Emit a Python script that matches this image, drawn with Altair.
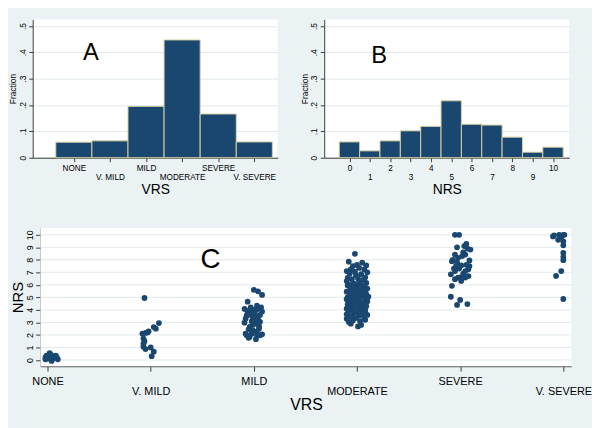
import altair as alt
import pandas as pd

# ---------------- data ----------------
vrs_categories = ["NONE", "V. MILD", "MILD", "MODERATE", "SEVERE", "V. SEVERE"]
vrs_fraction = [0.059, 0.064, 0.195, 0.447, 0.166, 0.060]

nrs_scores = [0, 1, 2, 3, 4, 5, 6, 7, 8, 9, 10]
nrs_fraction = [0.060, 0.026, 0.064, 0.102, 0.119, 0.216, 0.127, 0.124, 0.078, 0.021, 0.040]

fraction_ticks = [0, 0.1, 0.2, 0.3, 0.4, 0.5]
nrs_ticks = [0, 1, 2, 3, 4, 5, 6, 7, 8, 9, 10]
panel_letters = ["A", "B", "C"]

# jittered scatter (panel C): horizontal jitter in hundredths of a category, jittered NRS
none_jitter = [-2, 0, 2, 3, 5, 7, 9, 10, -1, 4, 6, 1, 8, -2, 3]
none_nrs = [0.05, 0.25, 0.55, 0.45, 0.10, 0.30, 0.20, 0.05, 0.35, -0.08, 0.15, 0.10, 0.35, 0.20, 0.20]

vmild_jitter = [-6, 8, 3, -2, -5, -8, -6, -7, -5, 0, 3, 1, -7, -3, 5, -7]
vmild_nrs = [4.95, 2.95, 2.63, 2.29, 2.16, 2.10, 1.50, 1.06, 0.87, 1.00, 0.66, 0.30, 1.71, 2.20, 2.50, 1.30]

mild_jitter = [0, 4, 8, -6, 3, -9, -4, 8, -7, -1, 4, -9, 1, 5, -4, -1, -7, -5, 6, 2, -2, 3,
               -6, 1, -2, 6, -8, 3, 7, -3, 0, -5, 5, -1, -6, 6, -3, 2, -8, 8, 3, -4, 4, 0]
mild_nrs = [5.60, 5.48, 5.19, 4.66, 4.34, 4.08, 3.95, 3.87, 3.55, 3.43, 3.29, 2.98, 2.90, 2.68,
            2.64, 2.37, 1.97, 1.77, 1.97, 1.66, 2.10, 2.29, 3.90, 3.70, 3.10, 3.05, 3.30, 4.05,
            4.20, 4.20, 4.00, 2.45, 2.50, 2.80, 3.75, 3.60, 3.60, 3.45, 2.10, 2.05, 2.00, 1.85,
            3.00, 3.20]

moderate_jitter = [-2,
                   -8, 5, 0, 9, -4,
                   -6, 7, -10, 2, -2, 10,
                   -7, 4, -1, 8, -9, 1,
                   -5, 6, -10, 2, 9, -3, -7, 4,
                   -9, 0, 7, -4, 10, -6, 3, -1, 8, -8,
                   -10, 5, -3, 1, 9, -7, -1, 6, -5, 3, 11, -9, 0, -2,
                   -6, 8, -10, 2, -3, 10, -8, 5, 0, -5, 7, -1,
                   -9, 3, -4, 9, -7, 1, 6, -10, -2, 4, -6,
                   8, -8, 0, -3, 5, -10, 10, 2, -5,
                   -7, 7, -1, -10, 8, -4, 3, -8,
                   1, -6, 4]
moderate_nrs = [8.48,
                7.85, 7.77, 7.60, 7.55, 7.50,
                7.24, 7.24, 7.10, 7.35, 7.05, 7.00,
                6.90, 6.85, 6.75, 6.60, 6.55, 6.50,
                6.45, 6.40, 6.30, 6.20, 6.15, 6.10, 6.00, 6.00,
                5.95, 5.90, 5.85, 5.80, 5.70, 5.65, 5.60, 5.55, 5.50, 5.50,
                5.45, 5.40, 5.35, 5.30, 5.25, 5.20, 5.15, 5.10, 5.05, 5.00, 5.05, 5.00, 5.45, 5.10,
                4.95, 4.90, 4.85, 4.80, 4.75, 4.70, 4.65, 4.60, 4.55, 4.50, 4.50, 4.85,
                4.45, 4.40, 4.35, 4.30, 4.25, 4.20, 4.15, 4.10, 4.05, 4.00, 4.00,
                3.95, 3.90, 3.85, 3.75, 3.70, 3.65, 3.60, 3.55, 3.50,
                3.45, 3.40, 3.35, 3.29, 3.21, 3.15, 3.10, 3.03,
                2.68, 2.90, 2.80]

severe_jitter = [-5, -1, -3, 6, 10, 3, 5, -5, 9, -8, 1, -5, 8, -9, -2, 5, 1, -5, -8, -9, 0, -3, 7,
                 6, -2, 5, -4, -7, 3, -1, 8, -6, 2, 7, -3, 4, 0, 9]
severe_nrs = [10.0, 10.0, 9.00, 9.27, 8.82, 8.60, 8.42, 8.42, 7.95, 7.89, 7.55, 7.10, 7.24, 6.84,
              6.58, 6.58, 6.31, 6.45, 5.92, 5.05, 4.79, 4.40, 4.47,
              7.60, 8.16, 7.10, 7.50, 8.00, 6.90, 7.30, 6.70, 7.30, 8.30, 8.90, 7.80, 9.10, 6.60, 7.50]

vsevere_jitter = [-9, -4, 0, -5, 0, 0, 0, 0, 0, -2, -7, 0, -10, -2, 1]
vsevere_nrs = [9.95, 10.0, 10.0, 9.60, 9.47, 9.16, 8.55, 8.24, 7.97, 7.10, 6.71, 4.87, 9.87, 9.80, 10.0]

# ---------------- styling ----------------
NAVY = "#1a476f"
BG = "#eaf2f3"
GRID = "#e1e9ec"
AXIS = "#3a3a3a"
OUTLINE = "#d6d0a2"
FONT = "Liberation Sans"

names_js = "[" + ",".join("'" + c + "'" for c in vrs_categories) + "]"
vrs_stagger = (f"datum.value % 2 == 0 ? ['', {names_js}[datum.value - 1]] "
               f": {names_js}[datum.value - 1]")
nrs_stagger = "datum.value % 2 == 1 ? ['', '' + datum.value] : '' + datum.value"
frac_label = "datum.value == 0 ? '0' : '.' + round(datum.value * 10)"


def fraction_axis():
    return alt.Axis(values=fraction_ticks, labelExpr=frac_label, labelAngle=-90,
                    labelAlign="center", labelBaseline="bottom", labelFontSize=8.5,
                    labelPadding=1.5, tickSize=4, title="Fraction", titleFontSize=8.5,
                    titlePadding=0.5, grid=True, gridColor=GRID)


def hist_x_axis(values, expr, title):
    return alt.Axis(values=values, labelExpr=expr, labelOverlap=False, labelFlush=False,
                    labelFontSize=8.3, labelLineHeight=8.6, labelPadding=2, tickSize=4,
                    grid=False, title=title, titleFontSize=14, titlePadding=2)


# ---------------- panel A ----------------
codes = list(range(1, len(vrs_categories) + 1))
df_a = pd.DataFrame({"code": codes, "frac": vrs_fraction})
df_a["lo"] = df_a["code"] - 0.5
df_a["hi"] = df_a["code"] + 0.5
df_a["base"] = 0.0

bars_a = alt.Chart(df_a).mark_rect(color=NAVY, stroke=OUTLINE, strokeWidth=1).encode(
    x=alt.X("lo:Q", scale=alt.Scale(domain=[-0.14, 6.65], nice=False, zero=False),
            axis=hist_x_axis(codes, vrs_stagger, "VRS")),
    x2="hi:Q",
    y=alt.Y("frac:Q", scale=alt.Scale(domain=[0, 0.525], nice=False), axis=fraction_axis()),
    y2="base:Q",
)
letter_a = alt.Chart(pd.DataFrame({"t": [panel_letters[0]]})).mark_text(
    fontSize=24, align="center", baseline="alphabetic", color="black", font=FONT
).encode(text="t:N", x=alt.value(59), y=alt.value(41))
panel_a = alt.layer(bars_a, letter_a).properties(width=248, height=140)

# ---------------- panel B ----------------
df_b = pd.DataFrame({"score": nrs_scores, "frac": nrs_fraction})
df_b["lo"] = df_b["score"] - 0.5
df_b["hi"] = df_b["score"] + 0.5
df_b["base"] = 0.0

bars_b = alt.Chart(df_b).mark_rect(color=NAVY, stroke=OUTLINE, strokeWidth=1).encode(
    x=alt.X("lo:Q", scale=alt.Scale(domain=[-1.24, 10.8], nice=False, zero=False),
            axis=hist_x_axis(nrs_scores, nrs_stagger, "NRS")),
    x2="hi:Q",
    y=alt.Y("frac:Q", scale=alt.Scale(domain=[0, 0.525], nice=False), axis=fraction_axis()),
    y2="base:Q",
)
letter_b = alt.Chart(pd.DataFrame({"t": [panel_letters[1]]})).mark_text(
    fontSize=24, align="center", baseline="alphabetic", color="black", font=FONT
).encode(text="t:N", x=alt.value(55.5), y=alt.value(44.5))
panel_b = alt.layer(bars_b, letter_b).properties(width=248, height=140)

# ---------------- panel C ----------------
# the panel's plot area is inset 8px from the shared left edge of the column
C_W, C_H, C_INSET = 545, 140, 8

groups = [(none_jitter, none_nrs), (vmild_jitter, vmild_nrs), (mild_jitter, mild_nrs),
          (moderate_jitter, moderate_nrs), (severe_jitter, severe_nrs),
          (vsevere_jitter, vsevere_nrs)]
rows = []
for code, (jit, vals) in zip(codes, groups):
    for j, v in zip(jit, vals):
        rows.append({"vrs": code + j / 100.0, "nrs": v})
df_c = pd.DataFrame(rows)

x_c = alt.X("vrs:Q", scale=alt.Scale(domain=[0.933, 6.077], nice=False, zero=False,
                                     range=[C_INSET, C_W]),
            axis=alt.Axis(values=codes, labelExpr=vrs_stagger, labelOverlap=False,
                          labelFlush=False, labelFontSize=11, labelLineHeight=11,
                          labelPadding=4, tickSize=5, grid=False, title="VRS",
                          titleFontSize=16, titlePadding=0))
y_scale_c = alt.Scale(domain=[-0.5, 10.55], nice=False, zero=False)


def nrs_axis():
    return alt.Axis(values=nrs_ticks, labelAngle=-90, labelAlign="center",
                    labelBaseline="bottom", labelFontSize=9, labelPadding=1.5,
                    tickSize=5, grid=False, title="NRS", offset=-C_INSET,
                    titleFontSize=15, titlePadding=0)


plot_bg_c = alt.Chart(pd.DataFrame({"k": [0]})).mark_rect(color="white").encode(
    x=alt.value(C_INSET), x2=alt.value(C_W), y=alt.value(0), y2=alt.value(C_H)
)
grid_c = alt.Chart(pd.DataFrame({"nrs": nrs_ticks})).mark_rule(
    color=GRID, strokeWidth=1
).encode(
    y=alt.Y("nrs:Q", scale=y_scale_c, axis=nrs_axis()),
    x=alt.value(C_INSET), x2=alt.value(C_W)
)
points_c = alt.Chart(df_c).mark_circle(size=34, color=NAVY, opacity=1).encode(
    x=x_c,
    y=alt.Y("nrs:Q", scale=y_scale_c, axis=nrs_axis()),
)
letter_c = alt.Chart(pd.DataFrame({"t": [panel_letters[2]]})).mark_text(
    fontSize=28, align="center", baseline="alphabetic", color="black", font=FONT
).encode(text="t:N", x=alt.value(172 + C_INSET), y=alt.value(41))
panel_c = alt.layer(plot_bg_c, grid_c, points_c, letter_c).properties(
    width=C_W, height=C_H, view=alt.ViewBackground(fill="transparent", strokeWidth=0)
)

# ---------------- compose ----------------
top = alt.hconcat(panel_a, panel_b, spacing=22)
chart = alt.vconcat(top, panel_c, spacing=32).properties(
    background=BG, padding={"left": 0, "top": 9, "right": 0, "bottom": 14}
).configure_view(fill="white", stroke="transparent", strokeWidth=0).configure_axis(
    domainColor=AXIS, tickColor=AXIS, labelColor="black", titleColor="black",
    labelFont=FONT, titleFont=FONT, titleFontWeight="normal", domainWidth=1
)

chart.save("out.html", embed_options={"renderer": "svg", "actions": False})
